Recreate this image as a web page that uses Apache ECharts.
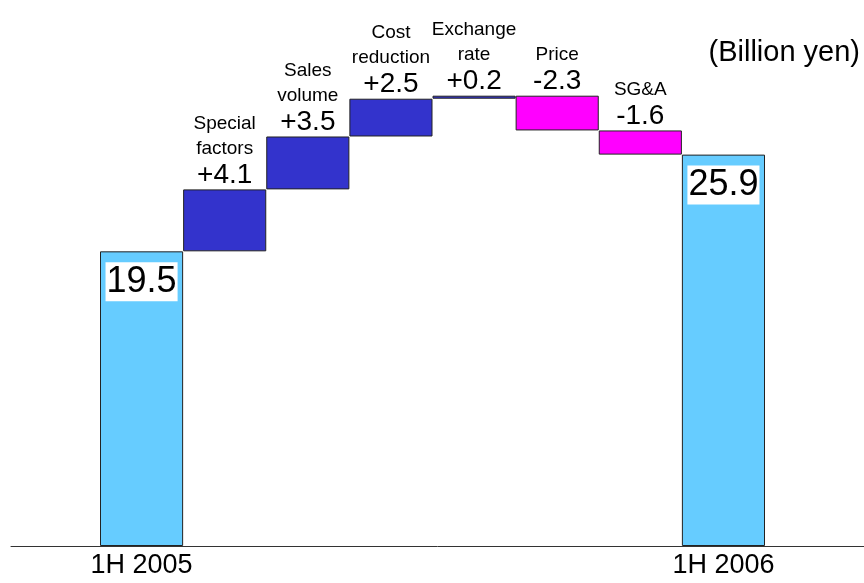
<!DOCTYPE html>
<html>
<head>
<meta charset="utf-8">
<script src="https://cdn.jsdelivr.net/npm/echarts@6/dist/echarts.min.js"></script>
<style>
  html, body { margin: 0; padding: 0; background: #fff; }
  #chart { width: 864px; height: 583px; }
</style>
</head>
<body>
<div id="chart"></div>
<script>
// waterfall data (billion yen)
const categories = ['1H 2005', 'Special factors', 'Sales volume', 'Cost reduction', 'Exchange rate', 'Price', 'SG&A', '1H 2006']
const stepNames = ['', 'Special\nfactors', 'Sales\nvolume', 'Cost\nreduction', 'Exchange\nrate', 'Price', 'SG&A', '']
const tickLabels = ['1H 2005', '', '', '', '', '', '', '1H 2006']
const startValue = 19.5
const deltas = [4.1, 3.5, 2.5, 0.2, -2.3, -1.6]
const endValue = 25.9

const FONT = '"Liberation Sans", Arial, sans-serif'

// build invisible base + visible height for each column
const baseData = []
const barData = []
let running = startValue
baseData.push(0)
barData.push({ value: startValue, kind: 'total' })
deltas.forEach(d => {
  const next = Math.round((running + d) * 10) / 10
  baseData.push(Math.min(running, next))
  barData.push({ value: Math.abs(d), kind: d >= 0 ? 'up' : 'down', delta: d })
  running = next
})
baseData.push(0)
barData.push({ value: endValue, kind: 'total' })

const colorOf = { total: '#66CCFF', up: '#3333CC', down: '#FF00FF' }

const chart = echarts.init(document.getElementById('chart'))

chart.setOption({
  animation: false,
  textStyle: { fontFamily: FONT },
  title: {
    text: '(Billion yen)',
    right: 4,
    top: 38,
    padding: 0,
    textStyle: { fontSize: 29, fontWeight: 'normal', color: '#000', fontFamily: FONT }
  },
  grid: [
    { left: 100, right: 99, top: 2, bottom: 37 },
    { left: 11, right: 0, top: 2, bottom: 37 }
  ],
  xAxis: [
    {
      type: 'category',
      gridIndex: 0,
      data: categories,
      axisLine: { show: false },
      axisTick: { show: false },
      axisLabel: {
        margin: 6,
        fontSize: 27,
        color: '#000',
        fontFamily: FONT,
        interval: 0,
        formatter: (v, i) => tickLabels[i]
      }
    },
    {
      type: 'value',
      gridIndex: 1,
      min: 0,
      max: 1,
      axisLine: { show: true, lineStyle: { color: '#333', width: 1 } },
      axisTick: { show: false },
      axisLabel: { show: false },
      splitLine: { show: false }
    }
  ],
  yAxis: [
    { type: 'value', gridIndex: 0, min: 0, max: 36, show: false, splitLine: { show: false } },
    { type: 'value', gridIndex: 1, min: 0, max: 1, show: false, splitLine: { show: false } }
  ],
  series: [
    {
      name: 'base',
      type: 'bar',
      stack: 'wf',
      silent: true,
      barCategoryGap: 0,
      itemStyle: { color: 'transparent' },
      data: baseData
    },
    {
      name: 'change',
      type: 'bar',
      stack: 'wf',
      barCategoryGap: 0,
      data: barData.map((d, i) => {
        const item = {
          value: d.value,
          itemStyle: { color: colorOf[d.kind], borderColor: '#222', borderWidth: 1 }
        }
        if (d.kind === 'total') {
          item.label = {
            show: true,
            position: 'insideTop',
            distance: 11,
            formatter: d.value.toFixed(1),
            fontSize: 36,
            lineHeight: 37,
            color: '#000',
            backgroundColor: '#fff',
            padding: [1, 1, 1, 1],
            fontFamily: FONT
          }
        } else {
          const sign = d.delta >= 0 ? '+' : ''
          item.label = {
            show: true,
            position: 'top',
            distance: 0,
            formatter: '{n|' + stepNames[i].split('\n').join('}\n{n|') + '}\n{v|' + sign + d.delta.toFixed(1) + '}',
            rich: {
              n: { fontSize: 19, lineHeight: 25, color: '#000', fontFamily: FONT },
              v: { fontSize: 28, lineHeight: 28, color: '#000', fontFamily: FONT }
            }
          }
        }
        return item
      })
    }
  ]
})
</script>
</body>
</html>
